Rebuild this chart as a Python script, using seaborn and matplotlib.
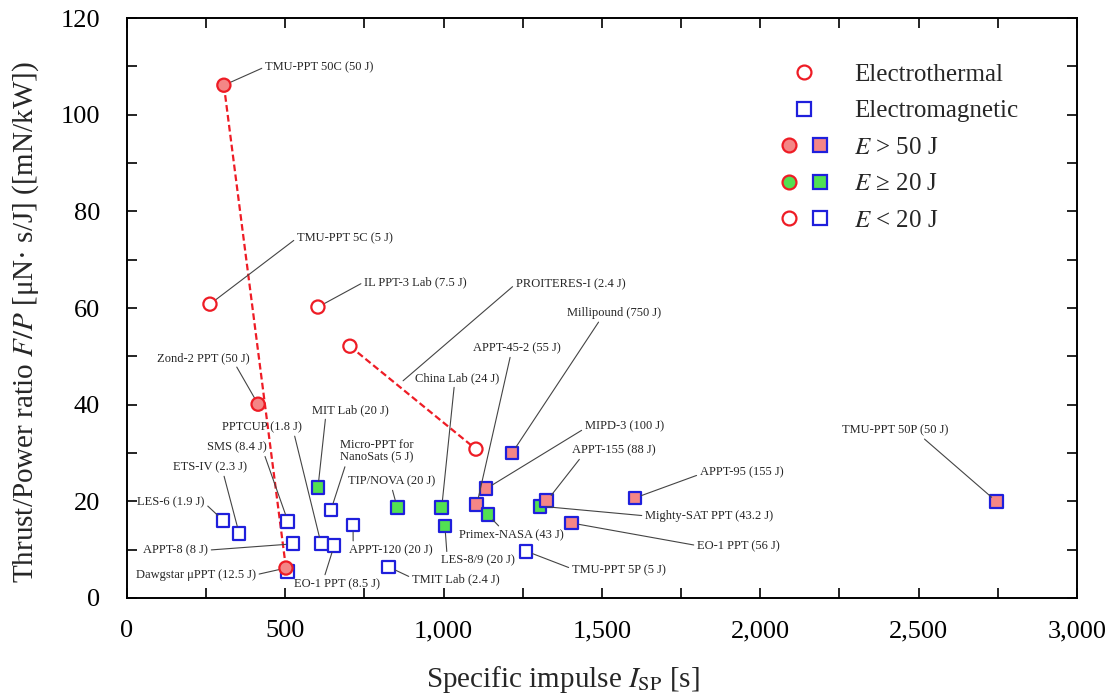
import pandas as pd
import seaborn as sns
import matplotlib.pyplot as plt
from matplotlib.lines import Line2D
from matplotlib.legend_handler import HandlerTuple
from matplotlib.ticker import MultipleLocator, FuncFormatter

# Electrothermal thrusters (circles)
et_names = ["TMU-PPT 50C", "TMU-PPT 5C", "IL PPT-3 Lab", "PROITERES-I a",
            "PROITERES-I b", "Zond-2 PPT", "Dawgstar"]
et_isp = [306, 262, 603, 704, 1102, 414, 502]
et_fp = [106.1, 60.8, 60.2, 52.1, 30.8, 40.1, 6.2]
et_cat = ["high", "low", "low", "low", "low", "high", "high"]
et_link = ["A", None, None, "B", "B", None, "A"]

# Electromagnetic thrusters (squares)
em_names = ["LES-6", "ETS-IV", "SMS", "APPT-8", "PPTCUP", "EO-1 8.5", "Micro-PPT",
            "APPT-120", "TMIT Lab", "Dawgstar sq", "TMU-PPT 5P", "MIT Lab", "TIP/NOVA",
            "China Lab", "LES-8/9", "APPT-45-2", "MIPD-3", "Primex-NASA", "Millipound",
            "Mighty-SAT", "APPT-155", "EO-1 56", "APPT-95", "TMU-PPT 50P"]
em_isp = [303, 354, 508, 524, 613, 654, 644, 714, 827, 508, 1260, 603, 853,
          994, 1004, 1105, 1134, 1140, 1216, 1304, 1326, 1405, 1604, 2747]
em_fp = [16.1, 13.4, 15.9, 11.2, 11.2, 10.8, 18.2, 15.1, 6.4, 5.4, 9.7, 22.8, 18.8,
         18.8, 14.9, 19.4, 22.6, 17.2, 30.0, 19.0, 20.1, 15.5, 20.7, 19.9]
em_cat = ["low", "low", "low", "low", "low", "low", "low", "low", "low", "low", "low",
          "mid", "mid", "mid", "mid", "high", "high", "mid", "high", "mid", "high",
          "high", "high", "high"]

et = pd.DataFrame({"name": et_names, "isp": et_isp, "fp": et_fp, "cat": et_cat, "link": et_link})
em = pd.DataFrame({"name": em_names, "isp": em_isp, "fp": em_fp, "cat": em_cat})
points = {n: (x, y) for n, x, y in zip(et_names + em_names, et_isp + em_isp, et_fp + em_fp)}

# point on the dashed PROITERES-I line for its label
pa, pb = points["PROITERES-I a"], points["PROITERES-I b"]
points["PROITERES-I"] = (pa[0] + 0.38 * (pb[0] - pa[0]), pa[1] + 0.38 * (pb[1] - pa[1]))

# label text, point it refers to, text position, leader attach point on the text
label_layout = [
    ("TMU-PPT 50C (50 J)", "TMU-PPT 50C", 436, 109.9, (0, 0.5)),
    ("TMU-PPT 5C (5 J)", "TMU-PPT 5C", 537, 74.5, (0, 0.5)),
    ("IL PPT-3 Lab (7.5 J)", "IL PPT-3 Lab", 749, 65.4, (0, 0.5)),
    ("PROITERES-I (2.4 J)", "PROITERES-I", 1228, 65.0, (0, 0.5)),
    ("Millipound (750 J)", "Millipound", 1389, 59.0, (0.36, 0)),
    ("APPT-45-2 (55 J)", "APPT-45-2", 1093, 51.7, (0.43, 0)),
    ("China Lab (24 J)", "China Lab", 909, 45.5, (0.47, 0)),
    ("Zond-2 PPT (50 J)", "Zond-2 PPT", 95, 49.7, (0.84, 0)),
    ("MIT Lab (20 J)", "MIT Lab", 584, 38.9, (0.18, 0)),
    ("PPTCUP (1.8 J)", "PPTCUP", 300, 35.4, (0.9, 0)),
    ("SMS (8.4 J)", "SMS", 253, 31.2, (0.95, 0)),
    ("Micro-PPT for\nNanoSats (5 J)", "Micro-PPT", 673, 30.4, (0.08, 0)),
    ("ETS-IV (2.3 J)", "ETS-IV", 145, 27.1, (0.68, 0)),
    ("TIP/NOVA (20 J)", "TIP/NOVA", 698, 24.2, (0.5, 0)),
    ("LES-6 (1.9 J)", "LES-6", 32, 19.9, (1, 0.4)),
    ("APPT-120 (20 J)", "APPT-120", 701, 9.9, (0.05, 1)),
    ("APPT-8 (8 J)", "APPT-8", 51, 9.9, (1, 0.5)),
    ("Dawgstar \u03bcPPT (12.5 J)", "Dawgstar", 28, 4.8, (1, 0.5)),
    ("EO-1 PPT (8.5 J)", "EO-1 8.5", 527, 2.9, (0.35, 1)),
    ("TMIT Lab (2.4 J)", "TMIT Lab", 900, 3.9, (0, 0.6)),
    ("LES-8/9 (20 J)", "LES-8/9", 992, 7.7, (0.08, 1)),
    ("Primex-NASA (43 J)", "Primex-NASA", 1048, 13.0, (0.41, 1)),
    ("MIPD-3 (100 J)", "MIPD-3", 1446, 35.6, (0, 0.3)),
    ("APPT-155 (88 J)", "APPT-155", 1405, 30.6, (0.12, 0)),
    ("APPT-95 (155 J)", "APPT-95", 1809, 26.1, (0, 0.3)),
    ("Mighty-SAT PPT (43.2 J)", "Mighty-SAT", 1636, 17.0, (0, 0.5)),
    ("EO-1 PPT (56 J)", "EO-1 56", 1800, 10.6, (0, 0.6)),
    ("TMU-PPT 5P (5 J)", "TMU-PPT 5P", 1405, 5.8, (0, 0.6)),
    ("TMU-PPT 50P (50 J)", "TMU-PPT 50P", 2258, 34.8, (0.74, 0)),
]

red = "#ee1c25"
blue = "#1f1fdc"
fills = {"high": "#f48686", "mid": "#52e052", "low": "white"}

sns.set_theme(style="ticks")
plt.rcParams["font.family"] = ["Liberation Serif", "DejaVu Serif"]
plt.rcParams["mathtext.fontset"] = "stix"

fig, ax = plt.subplots(figsize=(11.12, 6.99), dpi=100)
fig.subplots_adjust(left=0.1142, right=0.9685, bottom=0.1445, top=0.9742)

# dashed lines joining related electrothermal points
links = et.dropna(subset=["link"])
sns.lineplot(data=links, x="isp", y="fp", units="link", estimator=None, sort=False,
             color=red, lw=1.6, ls=(0, (3, 1.5)), ax=ax, zorder=2, legend=False)

sns.scatterplot(data=em, x="isp", y="fp", hue="cat", palette=fills, marker="s", s=85,
                edgecolor=blue, linewidth=1.6, ax=ax, zorder=3, legend=False)
sns.scatterplot(data=et, x="isp", y="fp", hue="cat", palette=fills, marker="o", s=90,
                edgecolor=red, linewidth=1.6, ax=ax, zorder=4, legend=False)

for text, key, tx, ty, rp in label_layout:
    ax.annotate(text, xy=points[key], xytext=(tx, ty), textcoords="data",
                fontsize=9, ha="left", va="center", linespacing=1.1,
                arrowprops=dict(arrowstyle="-", color="#444444", lw=0.8,
                                relpos=rp, shrinkA=0, shrinkB=5))

ax.set_xlim(0, 3000)
ax.set_ylim(0, 120)
ax.xaxis.set_major_locator(MultipleLocator(500))
ax.xaxis.set_minor_locator(MultipleLocator(250))
ax.yaxis.set_major_locator(MultipleLocator(20))
ax.yaxis.set_minor_locator(MultipleLocator(10))
ax.xaxis.set_major_formatter(FuncFormatter(lambda v, p: f"{v:,.0f}"))
ax.tick_params(which="both", direction="in", top=True, right=True, length=7,
               width=1.2, labelsize=19, color="black", labelcolor="black")
ax.tick_params(axis="x", pad=16)
ax.tick_params(axis="y", pad=19.5)
for sp in ax.spines.values():
    sp.set_linewidth(1.4)
    sp.set_color("black")

ax.set_xlabel(r"Specific impulse $I_{\mathrm{SP}}$ [s]", fontsize=21)
ax.set_ylabel("Thrust/Power ratio $F/P$ [\u03bcN\u00b7 s/J] ([mN/kW])", fontsize=21)
ax.xaxis.set_label_coords(0.459, -0.113)
ax.yaxis.set_label_coords(-0.091, 0.476)


def mk(marker, face, edge):
    return Line2D([], [], marker=marker, ls="none", ms=10, mfc=face, mec=edge, mew=1.6)


handles = [
    mk("o", "white", red),
    mk("s", "white", blue),
    (mk("o", fills["high"], red), mk("s", fills["high"], blue)),
    (mk("o", fills["mid"], red), mk("s", fills["mid"], blue)),
    (mk("o", "white", red), mk("s", "white", blue)),
]
labels = ["Electrothermal", "Electromagnetic", "$E$ > 50 J", "$E$ \u2265 20 J", "$E$ < 20 J"]
ax.legend(handles, labels, loc="upper left", bbox_to_anchor=(0.684, 0.922),
          frameon=False, fontsize=18, handlelength=2.2, handletextpad=0.9,
          labelspacing=0.56, borderaxespad=0, borderpad=0,
          handler_map={tuple: HandlerTuple(ndivide=None, pad=0.3)})

fig.savefig("out.png", dpi=100)
